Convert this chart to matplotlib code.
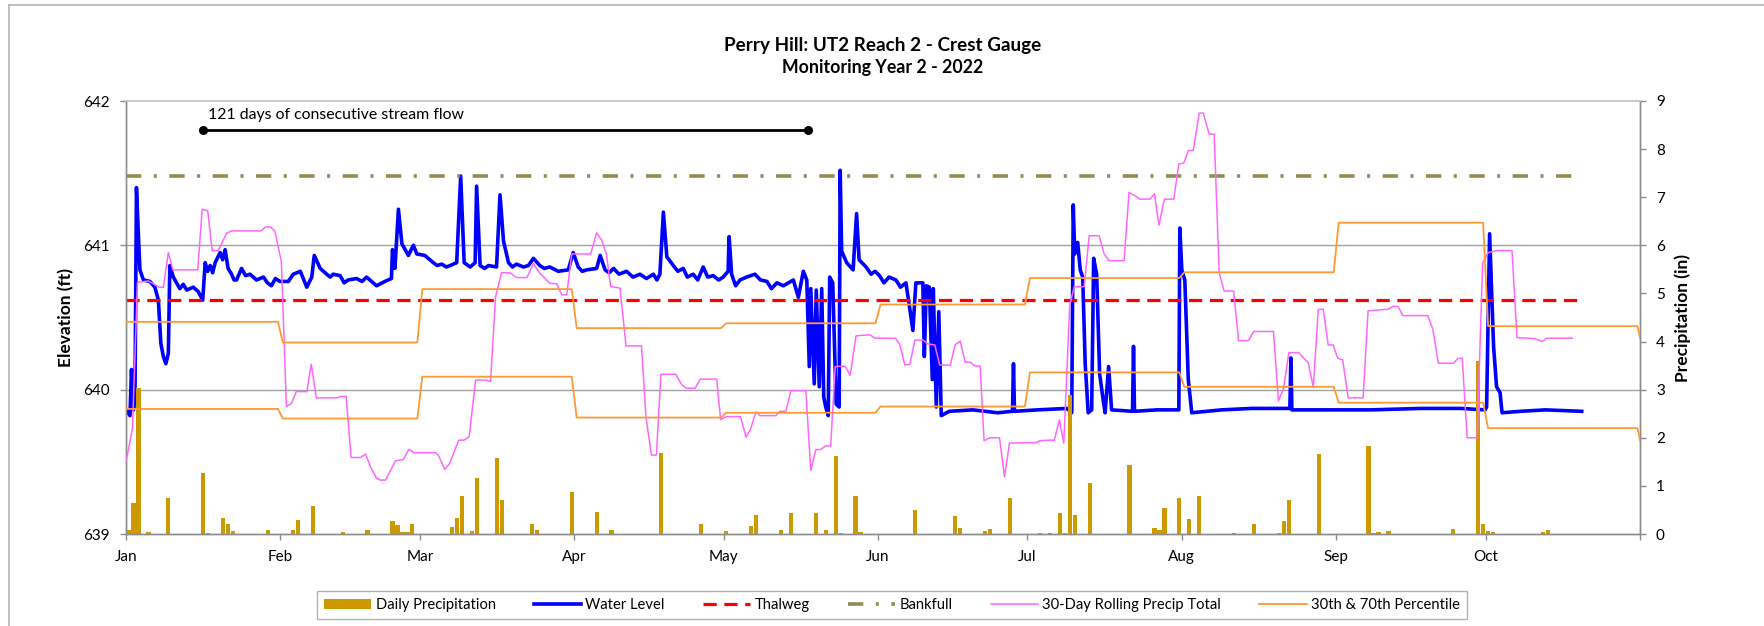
import numpy as np
import matplotlib.pyplot as plt
from matplotlib.lines import Line2D

plt.rcParams['font.family'] = ['Lato', 'DejaVu Sans']
plt.rcParams['lines.scale_dashes'] = False

# x axis = day of year 2022 (0 = Jan 1), Nov 1 = 304
months = ['Jan', 'Feb', 'Mar', 'Apr', 'May', 'Jun', 'Jul', 'Aug', 'Sep', 'Oct', '']
month_start = [0, 31, 59, 90, 120, 151, 181, 212, 243, 273, 304]

# water level (ft), traced from the gauge record
water = [(0, 639.86), (0.8, 639.82), (1.1, 640.14), (1.5, 639.86), (1.8, 639.93), (2.1, 641.40),
         (2.5, 641.06), (2.8, 640.83), (3.5, 640.76), (4.8, 640.75), (5.8, 640.71), (6.5, 640.62),
         (7.0, 640.32), (7.5, 640.23), (8.0, 640.18), (8.5, 640.25), (8.8, 640.86), (9.5, 640.78),
         (10.8, 640.70), (11.5, 640.73), (12.2, 640.69), (13.5, 640.71), (14.5, 640.68), (15.4, 640.62),
         (15.9, 640.88), (16.4, 640.82), (16.9, 640.86), (17.4, 640.81), (17.9, 640.88), (18.9, 640.95),
         (19.4, 640.90), (19.9, 640.97), (20.5, 640.84), (21.2, 640.80), (21.7, 640.76), (22.2, 640.76),
         (23.2, 640.84), (24.0, 640.79), (24.9, 640.80), (26.2, 640.76), (27.6, 640.78), (28.4, 640.74),
         (29.2, 640.72), (30.0, 640.77), (30.9, 640.75), (32.6, 640.75), (33.6, 640.80), (35.0, 640.82),
         (35.7, 640.76), (36.3, 640.71), (37.3, 640.78), (37.8, 640.93), (39.0, 640.84), (40.3, 640.80),
         (41.0, 640.78), (41.6, 640.80), (43.0, 640.79), (43.8, 640.74), (44.6, 640.76), (46.3, 640.77),
         (47.4, 640.75), (48.3, 640.78), (49.3, 640.75), (50.3, 640.72), (52.0, 640.75), (53.3, 640.77),
         (53.5, 640.97), (54.0, 640.84), (54.7, 641.25), (55.4, 641.01), (56.7, 640.93), (57.7, 641.00),
         (58.4, 640.94), (60.0, 640.93), (61.7, 640.88), (62.5, 640.86), (63.4, 640.87), (64.3, 640.85),
         (65.1, 640.86), (66.4, 640.88), (67.2, 641.48), (67.9, 640.88), (69.1, 640.85), (70.1, 640.88),
         (70.4, 641.41), (71.1, 640.86), (72.0, 640.84), (72.8, 640.86), (74.4, 640.85), (75.1, 641.35),
         (75.8, 641.03), (76.8, 640.88), (77.6, 640.85), (78.4, 640.87), (79.8, 640.85), (80.8, 640.86),
         (81.8, 640.91), (83.1, 640.86), (84.0, 640.84), (85.1, 640.85), (86.8, 640.82), (88.8, 640.83),
         (89.8, 640.95), (90.8, 640.85), (91.6, 640.82), (92.5, 640.83), (94.5, 640.84), (95.2, 640.93),
         (96.2, 640.83), (97.0, 640.81), (97.9, 640.84), (99.0, 640.80), (100.5, 640.82), (101.8, 640.78),
         (103.2, 640.80), (104.5, 640.77), (105.9, 640.80), (106.6, 640.76), (107.2, 640.80), (107.9, 641.23),
         (108.6, 640.92), (109.9, 640.86), (110.8, 640.82), (111.9, 640.84), (112.7, 640.78), (113.9, 640.80),
         (114.8, 640.76), (115.9, 640.85), (116.8, 640.78), (117.9, 640.79), (119.0, 640.76), (119.9, 640.78),
         (120.9, 640.82), (121.1, 641.06), (121.6, 640.80), (122.4, 640.72), (123.3, 640.76), (124.6, 640.78),
         (126.3, 640.80), (127.4, 640.76), (128.7, 640.75), (129.6, 640.70), (130.7, 640.74), (132.0, 640.72),
         (134.0, 640.76), (135.0, 640.64), (136.0, 640.82), (136.7, 640.76), (137.2, 640.16), (137.5, 640.70),
         (138.2, 640.04), (138.6, 640.69), (139.2, 640.02), (139.7, 640.70), (140.1, 639.95), (140.5, 639.88),
         (141.0, 639.82), (141.3, 640.78), (141.9, 640.74), (142.6, 639.90), (143.2, 639.88), (143.4, 641.52),
         (143.7, 640.96), (144.7, 640.88), (146.0, 640.83), (146.7, 641.22), (147.2, 640.90), (148.6, 640.85),
         (149.6, 640.80), (150.4, 640.82), (151.3, 640.79), (152.2, 640.74), (153.2, 640.78), (154.6, 640.76),
         (155.5, 640.71), (156.6, 640.74), (157.3, 640.58), (158.0, 640.41), (158.6, 640.74), (160.0, 640.74),
         (160.3, 640.23), (160.7, 640.72), (161.3, 640.71), (161.9, 640.07), (162.1, 640.70), (162.7, 639.88),
         (163.2, 640.54), (163.7, 639.82), (165.3, 639.85), (170.0, 639.86), (175.0, 639.84), (178.0, 639.85),
         (178.2, 640.18), (178.4, 639.85), (183.0, 639.86), (188.9, 639.87), (189.9, 639.84), (190.2, 641.28),
         (190.5, 640.94), (191.1, 641.02), (191.6, 640.83), (192.1, 640.78), (192.6, 640.18), (193.2, 639.84),
         (193.9, 639.86), (194.3, 640.91), (194.9, 640.80), (195.5, 640.11), (196.2, 639.93), (196.6, 639.84),
         (197.3, 640.16), (197.9, 639.86), (202.1, 639.85), (202.3, 640.30), (202.5, 639.85), (207.0, 639.86),
         (211.4, 639.86), (211.6, 641.12), (212.0, 640.83), (212.6, 640.76), (213.3, 640.07), (214.0, 639.84),
         (220.0, 639.86), (226.0, 639.87), (233.7, 639.87), (233.9, 640.22), (234.1, 639.86), (240.0, 639.86),
         (250.0, 639.86), (260.0, 639.87), (268.0, 639.87), (272.9, 639.86), (273.2, 639.88), (273.8, 641.08),
         (274.1, 640.78), (274.6, 640.30), (275.2, 640.02), (275.9, 639.98), (276.3, 639.84), (280.0, 639.85),
         (285.0, 639.86), (292.3, 639.85)]

thalweg = 640.62
bankfull = 641.48
record_end = 292.3

# daily precipitation (in)
precip = [(0, 0.08), (1, 0.64), (2, 3.03), (4, 0.04), (8, 0.74), (15, 1.27), (16, 0.03), (19, 0.33),
          (20, 0.20), (21, 0.06), (28, 0.08), (33, 0.08), (34, 0.29), (37, 0.59), (43, 0.04), (48, 0.08),
          (53, 0.26), (54, 0.19), (55, 0.04), (56, 0.04), (57, 0.20), (65, 0.14), (66, 0.33), (67, 0.78),
          (69, 0.07), (70, 1.17), (74, 1.57), (75, 0.71), (81, 0.20), (82, 0.09), (89, 0.87), (94, 0.45),
          (97, 0.08), (107, 1.69), (115, 0.20), (120, 0.07), (125, 0.17), (126, 0.40), (131, 0.08),
          (133, 0.43), (138, 0.44), (140, 0.08), (142, 1.62), (143, 0.03), (145, 0.01), (146, 0.80),
          (147, 0.05), (158, 0.50), (166, 0.38), (167, 0.13), (172, 0.07), (173, 0.10), (177, 0.74),
          (183, 0.03), (185, 0.03), (187, 0.44), (188, 0.02), (189, 2.89), (190, 0.40), (193, 1.05),
          (201, 1.43), (206, 0.13), (207, 0.08), (208, 0.54), (211, 0.75), (213, 0.31), (215, 0.79),
          (222, 0.03), (226, 0.20), (231, 0.02), (232, 0.28), (233, 0.71), (239, 1.66), (249, 1.82),
          (250, 0.02), (251, 0.04), (253, 0.07), (266, 0.10), (271, 3.60), (272, 0.21), (273, 0.06),
          (274, 0.04), (284, 0.04), (285, 0.08)]

# 30-day rolling precip total (in)
rolling = [(0.1, 1.55), (1.3, 2.20), (2.3, 5.23), (4.5, 5.26), (6.6, 5.13), (7.5, 5.13), (8.5, 5.85),
           (9.4, 5.49), (14.4, 5.49), (15.3, 6.75), (16.4, 6.72), (17.3, 5.89), (18.5, 5.89), (20.2, 6.25),
           (21.2, 6.30), (27.1, 6.30), (28.0, 6.38), (29.1, 6.38), (29.9, 6.29), (31.2, 5.66), (32.2, 2.65),
           (33.2, 2.71), (34.2, 2.96), (36.3, 2.96), (37.2, 3.53), (38.2, 2.83), (42.4, 2.83), (43.2, 2.86),
           (44.2, 2.86), (45.2, 1.59), (47.1, 1.59), (48.1, 1.66), (49.2, 1.37), (50.3, 1.16), (51.1, 1.12),
           (52.1, 1.12), (53.2, 1.34), (54.1, 1.52), (55.7, 1.55), (56.8, 1.76), (57.8, 1.69), (62.2, 1.69),
           (62.8, 1.62), (64.0, 1.34), (65.0, 1.47), (66.8, 1.95), (67.9, 1.95), (68.9, 2.02), (70.2, 3.20),
           (72.2, 3.20), (73.2, 3.17), (74.2, 4.93), (75.4, 5.43), (77.1, 5.43), (78.4, 5.33), (80.5, 5.33),
           (81.8, 5.62), (83.1, 5.42), (85.1, 5.21), (86.5, 5.20), (87.5, 4.97), (88.5, 4.97), (89.5, 5.82),
           (93.3, 5.82), (94.5, 6.26), (95.5, 6.11), (96.5, 5.80), (97.3, 5.15), (99.2, 5.11), (100.4, 3.91),
           (103.5, 3.91), (104.4, 2.44), (105.5, 1.64), (106.5, 1.64), (107.4, 3.32), (110.4, 3.32),
           (111.6, 3.10), (112.5, 3.03), (114.3, 3.03), (115.3, 3.22), (118.6, 3.22), (119.4, 2.38),
           (120.6, 2.44), (123.4, 2.44), (124.5, 2.01), (125.4, 2.18), (126.5, 2.54), (127.3, 2.46),
           (130.5, 2.46), (131.3, 2.55), (132.5, 2.55), (133.5, 2.98), (136.5, 2.98), (137.5, 1.32),
           (138.5, 1.75), (139.5, 1.76), (140.5, 1.83), (141.5, 1.83), (142.4, 3.48), (144.4, 3.49),
           (145.4, 3.30), (146.6, 4.12), (149.4, 4.14), (150.4, 4.07), (154.5, 4.07), (155.4, 3.93),
           (156.4, 3.51), (157.4, 3.53), (158.4, 4.03), (160.1, 4.03), (161.0, 3.95), (162.4, 3.93),
           (163.4, 3.51), (165.5, 3.51), (166.5, 3.93), (167.5, 4.01), (168.5, 3.57), (169.5, 3.57),
           (170.5, 3.49), (171.5, 3.49), (172.3, 1.94), (173.5, 2.00), (175.4, 2.00), (176.4, 1.19),
           (177.4, 1.89), (182.6, 1.90), (183.6, 1.94), (185.4, 1.95), (186.4, 1.95), (187.4, 2.37),
           (188.3, 1.89), (189.5, 4.76), (190.4, 5.14), (192.4, 5.14), (193.4, 6.20), (195.4, 6.20),
           (196.4, 5.82), (197.4, 5.68), (200.4, 5.68), (201.4, 7.10), (202.6, 7.03), (203.6, 6.96),
           (205.6, 6.96), (206.5, 7.07), (207.4, 6.42), (208.5, 6.96), (210.4, 6.96), (211.4, 7.69),
           (212.4, 7.71), (213.3, 7.97), (214.3, 7.97), (215.5, 8.75), (216.3, 8.75), (217.5, 8.31),
           (218.5, 8.31), (219.5, 5.43), (220.5, 5.05), (222.4, 5.05), (223.4, 4.02), (225.4, 4.02),
           (226.4, 4.21), (230.4, 4.21), (231.4, 2.77), (232.4, 3.01), (233.5, 3.77), (235.5, 3.77),
           (236.5, 3.65), (237.4, 3.56), (238.4, 3.05), (239.4, 4.67), (240.4, 4.67), (241.4, 3.93),
           (242.4, 3.93), (243.3, 3.65), (244.3, 3.62), (245.4, 2.83), (248.4, 2.83), (249.4, 4.64),
           (253.4, 4.67), (254.4, 4.73), (255.4, 4.73), (256.4, 4.54), (261.4, 4.54), (262.4, 4.26),
           (263.5, 3.55), (266.5, 3.55), (267.5, 3.65), (268.3, 3.65), (269.3, 2.00), (271.3, 2.00),
           (272.4, 5.63), (273.5, 5.85), (275.2, 5.89), (278.3, 5.89), (279.3, 4.08), (281.8, 4.07),
           (283.2, 4.05), (284.3, 4.00), (285.3, 4.07), (290.4, 4.07)]

# monthly 70th / 30th percentile of 30-day precip, Jan..Nov
p70 = [4.41, 3.98, 5.09, 4.28, 4.38, 4.77, 5.32, 5.44, 6.47, 4.32, 4.07]
p30 = [2.60, 2.40, 3.27, 2.42, 2.52, 2.65, 3.36, 3.06, 2.73, 2.20, 1.95]

# consecutive flow annotation
flow_start = 15.4
flow_end = 137.0
flow_level = 641.80

wl_day, wl_elev = zip(*water)
pr_day, pr_in = zip(*precip)
rl_day, rl_in = zip(*rolling)

def month_steps(vals):
    xs, ys = [], []
    for i in range(10):
        xs += [month_start[i] + 0.5, month_start[i + 1] - 0.5]
        ys += [vals[i], vals[i]]
    xs[0] = 0
    xs.append(304)
    ys.append(vals[10])
    return xs, ys

fig = plt.figure(figsize=(17.65, 6.26), dpi=100)
ax = fig.add_axes([126 / 1765, 92 / 626, 1514 / 1765, 433 / 626])
ax2 = ax.twinx()

grey = '#8c8c8c'

# elevation side
ax.plot(wl_day, wl_elev, color='#0000ff', lw=2.6, label='Water Level', zorder=3)
ax.plot([0, record_end], [thalweg, thalweg], color='#ff0000', lw=2.3, dashes=(9.5, 5.5),
        label='Thalweg', zorder=4)
ax.plot([0, record_end], [bankfull, bankfull], color='#948a54', lw=2.6,
        dashes=(11, 9, 2.2, 9), label='Bankfull', zorder=4)
ax.plot([flow_start, flow_end], [flow_level, flow_level], color='black', lw=2.0,
        marker='o', markersize=5.5, zorder=5)
ax.text(flow_start + 1.1, 641.90, '121 days of consecutive stream flow', fontsize=11.4,
        va='center', ha='left')

ax.set_xlim(0, 304)
ax.set_ylim(639, 642)
ax.set_yticks([639, 640, 641, 642])
ax.set_xticks(month_start)
ax.set_xticklabels(months)
for y in [640, 641]:
    ax.axhline(y, color='#a0a0a0', lw=1.0, zorder=1)

# precipitation side
ax2.bar(np.array(pr_day) + 0.5, pr_in, width=0.85, color='#cc9900', label='Daily Precipitation', zorder=2)
ax2.plot(rl_day, rl_in, color='#ff66ff', lw=1.1, label='30-Day Rolling Precip Total', zorder=3)
x70, y70 = month_steps(p70)
x30, y30 = month_steps(p30)
ax2.plot(x70, y70, color='#ff9933', lw=1.3, label='30th & 70th Percentile', zorder=3)
ax2.plot(x30, y30, color='#ff9933', lw=1.3, zorder=3)
ax2.set_ylim(0, 9)
ax2.set_yticks(range(10))

for a in (ax, ax2):
    a.spines['top'].set_color('#c8c8c8')
    a.spines['top'].set_linewidth(1.2)
    for s in ['left', 'right', 'bottom']:
        a.spines[s].set_color(grey)
        a.spines[s].set_linewidth(1.0)
    a.tick_params(direction='out', length=4.5, width=1.0, color=grey, labelsize=11, pad=7)

ax.set_ylabel('Elevation (ft)', fontsize=12.5, fontweight='bold')
ax.yaxis.set_label_coords(-0.034, 0.5)
ax2.set_ylabel('Precipitation (in)', fontsize=12.5, fontweight='bold')
ax2.yaxis.set_label_coords(1.0225, 0.5)

fig.text(0.5003, 1 - 45 / 626, 'Perry Hill: UT2 Reach 2 - Crest Gauge', ha='center', va='center',
         fontsize=13.6, fontweight='bold')
fig.text(0.5003, 1 - 67.5 / 626, 'Monitoring Year 2 - 2022', ha='center', va='center',
         fontsize=12.8, fontweight='bold')

# legend in one row below the plot
h1, l1 = ax.get_legend_handles_labels()
h2, l2 = ax2.get_legend_handles_labels()
hd = dict(zip(l1 + l2, h1 + h2))
order = ['Daily Precipitation', 'Water Level', 'Thalweg', 'Bankfull',
         '30-Day Rolling Precip Total', '30th & 70th Percentile']
leg = ax2.legend([hd[k] for k in order], order, ncol=6, loc='center',
                 bbox_to_anchor=(892 / 1765, 1 - 605 / 626), bbox_transform=fig.transFigure,
                 fontsize=10.6, handlelength=3.2, handletextpad=0.3, columnspacing=2.6,
                 fancybox=False, edgecolor='#a0a0a0', borderpad=0.45)
leg.get_frame().set_linewidth(1.0)

# outer chart border
fig.add_artist(Line2D([9.5 / 1765, 1], [1 - 5 / 626, 1 - 5 / 626], color='#b4b4b4', lw=1.2))
fig.add_artist(Line2D([9.5 / 1765, 9.5 / 1765], [0, 1 - 5 / 626], color='#b4b4b4', lw=1.2))

fig.savefig('out.png', dpi=100)
